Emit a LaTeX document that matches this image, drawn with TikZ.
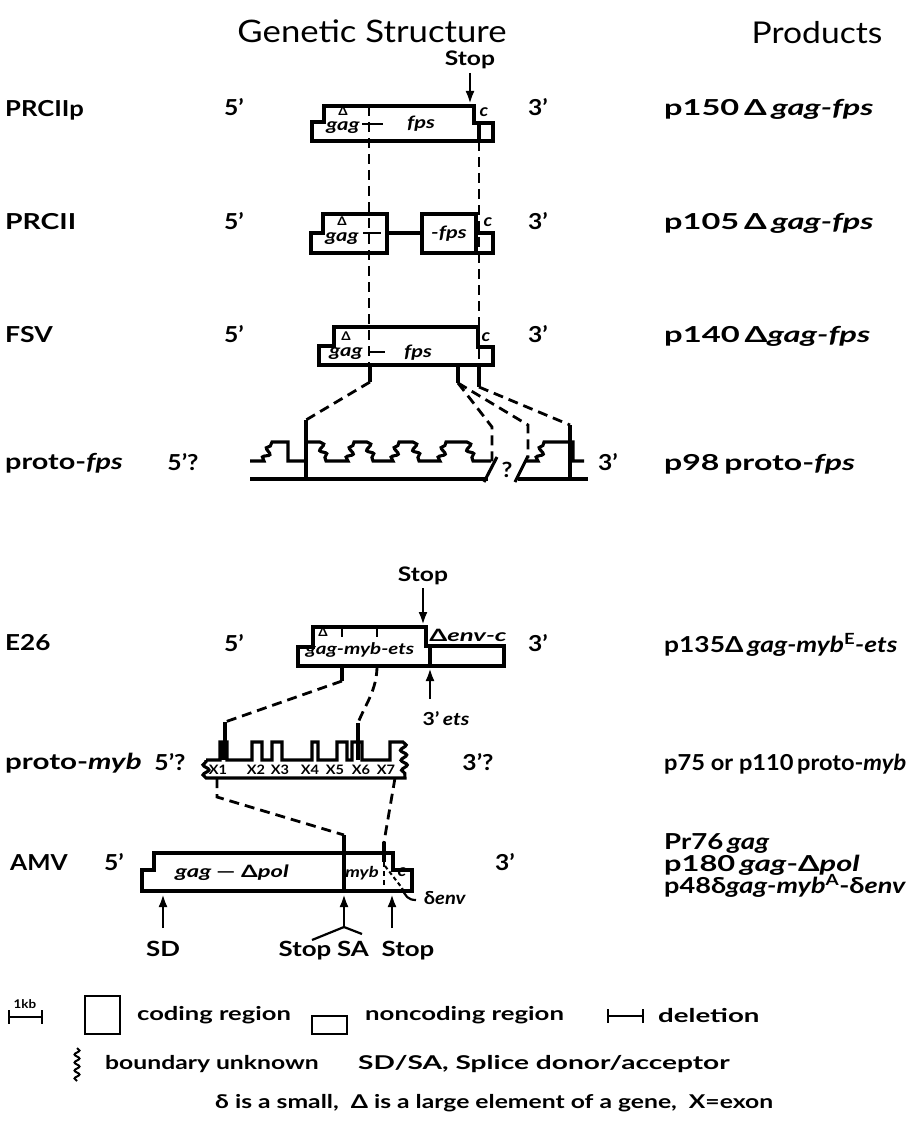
\documentclass[tikz,border=0pt]{standalone}
\usepackage{graphicx}
\usepackage{fontspec}
\setmainfont{Lato}[FakeStretch=1.12]
\usetikzlibrary{arrows.meta,decorations.pathmorphing}
\newcommand\sx[2]{\scalebox{#1}[1]{#2}}
\begin{document}
\begin{tikzpicture}[x=1pt,y=-1pt,
  gl/.style={line width=3.1pt},
  dl/.style={line width=2.8pt, dash pattern=on 10pt off 6pt},
  wv/.style={decoration={snake,amplitude=3pt,segment length=10pt}},
  lab/.style={font=\fontsize{22}{22}\selectfont\bfseries, anchor=base west, inner sep=0pt},
  prod/.style={font=\fontsize{22}{22}\selectfont\bfseries, anchor=base west, inner sep=0pt},
  ends/.style={font=\fontsize{22}{22}\selectfont\bfseries, anchor=base, inner sep=0pt},
  inb/.style={font=\fontsize{17}{17}\selectfont\bfseries\itshape, inner sep=0pt},
  dlt/.style={font=\fontsize{12}{12}\selectfont\bfseries, inner sep=0pt},
  stp/.style={font=\fontsize{20}{20}\selectfont\bfseries, anchor=base, inner sep=0pt},
  xl/.style={font=\fontsize{13}{13}\selectfont\bfseries, inner sep=0pt},
  leg/.style={font=\fontsize{19}{19}\selectfont\bfseries, anchor=west, inner sep=0pt},
  arr/.style={line width=2.6pt, -{Latex[length=13pt,width=9pt]}},
]
\fill[white] (0,0) rectangle (918,1126);
\useasboundingbox (0,0) rectangle (918,1126);

% titles
\node[font=\fontsize{31}{31}\selectfont, inner sep=0pt] (t1) at (372,31) {Genetic Structure};
\node[font=\fontsize{30}{30}\selectfont, inner sep=0pt] (t2) at (817,33) {Products};

% row labels
\node[lab] (l1) at (5,117) {\sx{1.04}{PRCIIp}};
\node[lab] (l2) at (5,229) {\sx{1.15}{PRCII}};
\node[lab] (l3) at (5,342) {\sx{1.08}{FSV}};
\node[lab] (l4) at (5,469) {\sx{1.17}{proto-\textit{fps}}};
\node[lab] (l5) at (5,650) {\sx{1.06}{E26}};
\node[lab] (l6) at (5,769) {\sx{1.2}{proto-\textit{myb}}};
\node[lab] (l7) at (10,870) {AMV};

% 5' / 3'
\node[ends] (a1) at (234,116) {5'};
\node[ends] (b1) at (538,116) {3'};
\node[ends] (a2) at (234,229) {5'};
\node[ends] (b2) at (538,229) {3'};
\node[ends] (a3) at (234,342) {5'};
\node[ends] (b3) at (538,342) {3'};
\node[ends] (a4) at (183,470) {5'?};
\node[ends] (b4) at (608,470) {3'};
\node[ends] (a5) at (234,651) {5'};
\node[ends] (b5) at (538,651) {3'};
\node[ends] (a6) at (170,770) {5'?};
\node[ends] (b6) at (478,770) {3'?};
\node[ends] (a7) at (114,870) {5'};
\node[ends] (b7) at (505,870) {3'};

% products
\node[prod] (p1) at (664,116) {\sx{1.32}{p150\,Δ\,\textit{gag-fps}}};
\node[prod] (p2) at (664,229) {\sx{1.32}{p105\,Δ\,\textit{gag-fps}}};
\node[prod] (p3) at (664,342) {\sx{1.33}{p140\,Δ\textit{gag-fps}}};
\node[prod] (p4) at (664,470) {\sx{1.3}{p98\,proto-\textit{fps}}};
\node[prod] (p5) at (664,652) {\sx{1.07}{p135Δ\,\textit{gag-myb}\textsuperscript{E}\textit{-ets}}};
\node[prod] (p6) at (664,770) {\sx{0.96}{p75 or p110\,proto-\textit{myb}}};
\node[prod] (p7) at (664,849) {\sx{1.12}{Pr76\,\textit{gag}}};
\node[prod] (p8) at (664,871) {\sx{1.25}{p180\,\textit{gag}-Δ\textit{pol}}};
\node[prod] (p9) at (664,893) {\sx{1.1}{p48δ\textit{gag-myb}\textsuperscript{A}-δ\textit{env}}};

% ---------- PRCIIp ----------
\node[stp] (s1) at (470,66) {\sx{1.1}{Stop}};
\coordinate (s1a) at (470,73);
\coordinate (s1b) at (470,104);
\draw[arr] (s1a) -- (s1b);
\draw[gl] (312,141) -- (312,122) -- (324,122) -- (324,106) -- (474,106) -- (474,123) -- (493,123) -- (493,141) -- cycle;
\draw[gl] (479,123) -- (479,141);
\node[dlt] (d1) at (343,111) {Δ};
\node[inb] (g1) at (343,128) {\sx{1.15}{gag}};
\draw[line width=2.2pt] (362,124) -- (383,124);
\node[inb] (f1) at (421,124) {\sx{1.15}{fps}};
\node[inb] (c1) at (484,112) {c};

% ---------- PRCII ----------
\draw[gl] (311,253) -- (311,233) -- (323,233) -- (323,214) -- (387,214) -- (387,253) -- cycle;
\draw[gl] (387,233) -- (422,233);
\draw[gl] (422,214) rectangle (476,253);
\draw[gl] (476,233) -- (493,233) -- (493,253) -- (476,253);
\node[dlt] (d2) at (342,221) {Δ};
\node[inb] (g2) at (342,239) {\sx{1.15}{gag}};
\draw[line width=2.2pt] (363,233) -- (381,233);
\node[inb] (f2) at (449,234) {\sx{1.15}{-fps}};
\node[inb] (c2) at (488,222) {c};

% ---------- FSV ----------
\draw[gl] (319,365) -- (319,346) -- (334,346) -- (334,327) -- (478,327) -- (478,347) -- (493,347) -- (493,365) -- cycle;
\node[dlt] (d3) at (346,336) {Δ};
\node[inb] (g3) at (346,354) {\sx{1.15}{gag}};
\draw[line width=2.2pt] (370,352) -- (385,352);
\node[inb] (f3) at (418,353) {\sx{1.15}{fps}};
\node[inb] (c3) at (486,337) {c};

% dashed alignments
\draw[dl] (369,106) -- (369,365);
\draw[dl] (479,141) -- (479,365);

% FSV -> proto-fps
\draw[gl] (370,365) -- (370,382);
\draw[dl] (370,382) -- (306,420);
\draw[gl] (306,420) -- (306,481);
\draw[gl] (458,365) -- (458,383);
\draw[dl] (458,383) -- (492,427) -- (492,462);
\draw[dl] (458,383) -- (528,425) -- (528,458);
\draw[gl] (479,365) -- (479,387);
\draw[dl] (479,387) -- (570,425);
\draw[gl] (570,425) -- (570,481);

% ---------- proto-fps ----------
\draw[gl] (250,479) -- (488,479);
\draw[gl] (484,482) -- (497,457);
\node[font=\fontsize{21}{21}\selectfont\bfseries, inner sep=0pt] (q4) at (507,470) {?};
\draw[gl] (515,482) -- (528,456);
\draw[gl] (518,479) -- (588,479);
\draw[gl] (250,461) -- (264,461) decorate[wv]{-- (272,442)} -- (288,442) -- (288,461) -- (306,461);
\draw[gl] (306,442) -- (320,442) decorate[wv]{-- (326,461)} -- (348,461) decorate[wv]{-- (354,442)} -- (367,442) decorate[wv]{-- (373,461)} -- (393,461) decorate[wv]{-- (399,442)} -- (413,442) decorate[wv]{-- (419,461)} -- (440,461) decorate[wv]{-- (446,442)} -- (467,442) decorate[wv]{-- (473,461)} -- (491,461);
\draw[gl] (526,461) -- (538,461) decorate[wv]{-- (544,442)} -- (573,442) -- (573,461) -- (584,461);

% ---------- E26 ----------
\node[stp] (s5) at (423,581) {\sx{1.1}{Stop}};
\coordinate (s5a) at (423,588);
\coordinate (s5b) at (423,625);
\draw[arr] (s5a) -- (s5b);
\draw[gl] (298,666) -- (298,647) -- (313,647) -- (313,627) -- (426,627) -- (426,646) -- (504,646) -- (504,666) -- cycle;
\draw[gl] (430,646) -- (430,666);
\draw[line width=2pt] (342,629) -- (342,637);
\draw[line width=2pt] (377,629) -- (377,637);
\node[dlt] (d5) at (323,632) {Δ};
\node[inb, font=\fontsize{16}{16}\selectfont\bfseries\itshape] (g5) at (360,650) {\sx{1.15}{gag-myb-ets}};
\node[inb, font=\fontsize{17}{17}\selectfont\bfseries\itshape] (e5) at (468,635) {\sx{1.35}{\upshape Δ\itshape env-c}};
\coordinate (u5a) at (430,699);
\coordinate (u5b) at (430,668);
\draw[arr] (u5a) -- (u5b);
\node[font=\fontsize{18}{18}\selectfont\bfseries, inner sep=0pt] (ets) at (446,719) {\sx{1.05}{3'\,\textit{ets}}};

% E26 -> proto-myb
\draw[gl] (342,666) -- (342,681);
\draw[dl] (342,681) -- (225,722);
\draw[gl] (225,722) -- (225,760);
\draw[dl] (377,666) .. controls (377,690) and (365,705) .. (358,723);
\draw[gl] (358,723) -- (358,760);

% ---------- proto-myb ----------
\fill (220,742) rectangle (227,760);
\draw[gl] (206,760) -- (220,760) -- (220,742) -- (227,742) -- (227,760) -- (252,760) -- (252,742) -- (262,742) -- (262,760) -- (272,760) -- (272,742) -- (282,742) -- (282,760) -- (312,760) -- (312,742) -- (318,742) -- (318,760) -- (337,760) -- (337,742) -- (347,742) -- (347,760) -- (352,760) -- (352,742) -- (362,742) -- (362,760) -- (390,760) -- (390,742) -- (403,742) decorate[wv]{-- (405,778)} -- (206,778) decorate[wv]{-- (206,760)};
\node[xl] (x1) at (218,770) {X1};
\node[xl] (x2) at (256,770) {X2};
\node[xl] (x3) at (280,770) {X3};
\node[xl] (x4) at (310,770) {X4};
\node[xl] (x5) at (335,770) {X5};
\node[xl] (x6) at (361,770) {X6};
\node[xl] (x7) at (386,770) {X7};

% proto-myb -> AMV
\draw[dl] (217,778) -- (217,797) -- (344,835);
\draw[gl] (344,835) -- (344,891);
\draw[dl] (395,778) -- (384,842);
\draw[gl] (384,842) -- (384,862);
\draw[line width=2pt, dash pattern=on 5pt off 4pt] (384,862) -- (384,891);
\draw[line width=2pt, dash pattern=on 4pt off 3pt] (385,866) -- (402,888);
\draw[line width=2.2pt] (402,888) .. controls (405,896) and (408,900) .. (416,900);

% ---------- AMV ----------
\draw[gl] (142,891) -- (142,870) -- (154,870) -- (154,853) -- (393,853) -- (393,870) -- (412,870) -- (412,891) -- cycle;
\node[inb] (g7) at (232,873) {\sx{1.25}{gag \upshape— Δ\itshape pol}};
\node[inb, font=\fontsize{15}{15}\selectfont\bfseries\itshape] (m7) at (362,873) {\sx{1.1}{myb}};
\node[inb] (c7) at (402,872) {c};
\node[inb, font=\fontsize{18}{18}\selectfont\bfseries] (de7) at (445,898) {δ\textit{env}};
\coordinate (sd1) at (163,928);
\coordinate (sd2) at (163,894);
\draw[arr] (sd1) -- (sd2);
\coordinate (sa1) at (344,927);
\coordinate (sa2) at (344,894);
\draw[arr] (sa1) -- (sa2);
\coordinate (st1) at (392,928);
\coordinate (st2) at (392,894);
\draw[arr] (st1) -- (st2);
\coordinate (sl) at (312,940);
\coordinate (sr) at (362,934);
\draw[line width=2.2pt] (sa1) -- (sl);
\draw[line width=2.2pt] (sa1) -- (sr);
\node[stp, font=\fontsize{21}{21}\selectfont\bfseries] (sdt) at (163,956) {\sx{1.1}{SD}};
\node[stp, font=\fontsize{21}{21}\selectfont\bfseries] (stt1) at (305,956) {\sx{1.1}{Stop}};
\node[stp, font=\fontsize{21}{21}\selectfont\bfseries] (sat) at (353,956) {\sx{1.1}{SA}};
\node[stp, font=\fontsize{21}{21}\selectfont\bfseries] (stt2) at (408,956) {\sx{1.1}{Stop}};

% ---------- legend ----------
\draw[line width=2.2pt] (9,1017) -- (42,1017);
\draw[line width=2.2pt] (9,1010) -- (9,1024);
\draw[line width=2.2pt] (42,1010) -- (42,1024);
\node[font=\fontsize{12}{12}\selectfont\bfseries, inner sep=0pt] (kb) at (25,1004) {1kb};
\draw[line width=2.2pt] (85,996) rectangle (120,1034);
\node[leg] (lc) at (137,1015) {\sx{1.2}{coding region}};
\draw[line width=2.2pt] (312,1016) rectangle (347,1034);
\node[leg] (ln) at (365,1015) {\sx{1.21}{noncoding region}};
\draw[line width=2.2pt] (608,1016) -- (643,1016);
\draw[line width=2.2pt] (608,1009) -- (608,1023);
\draw[line width=2.2pt] (643,1009) -- (643,1023);
\node[leg] (ld) at (658,1015) {\sx{1.3}{deletion}};
\draw[line width=2pt, decorate, decoration={snake,amplitude=2.5pt,segment length=8pt}] (77,1048) -- (77,1081);
\node[leg] (lb) at (105,1064) {\sx{1.16}{boundary unknown}};
\node[leg] (ls) at (358,1064) {\sx{1.32}{SD/SA, Splice donor/acceptor}};
\node[leg] (le) at (215,1103) {\sx{1.16}{δ is a small, \ Δ is a large element of a gene, \ X=exon}};
\end{tikzpicture}
\end{document}
